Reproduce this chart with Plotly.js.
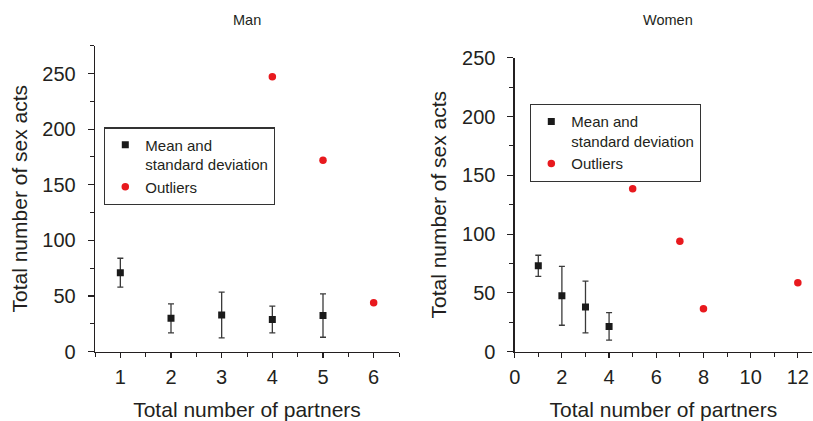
<!DOCTYPE html>
<html>
<head>
<meta charset="utf-8">
<script src="https://cdn.plot.ly/plotly-3.0.1.min.js"></script>
<style>html,body{margin:0;padding:0;background:#fff;}#chart{width:813px;height:421px;}</style>
</head>
<body>
<div id="chart"></div>
<script>
// Men
const manX = [1, 2, 3, 4, 5];
const manMean = [71, 30, 33, 29, 32.5];
const manSD = [13, 13, 20.5, 12, 19.5];
const manOutX = [4, 5, 6];
const manOutY = [247, 172, 44];
// Women
const womenX = [1, 2, 3, 4];
const womenMean = [73, 47.5, 38, 21.5];
const womenSD = [9, 25, 22, 11.7];
const womenOutX = [5, 7, 8, 12];
const womenOutY = [138.6, 94, 36.6, 58.7];

const panelTitles = ["Man", "Women"];
const seriesNames = ["Mean and<br>standard deviation", "Outliers"];
const xTitle = "Total number of partners";
const yTitle = "Total number of sex acts";

const ink = "#231f20";
const fontFam = "Liberation Sans, Arial, sans-serif";

function meanTrace(x, y, sd, xa, ya, leg) {
  return {
    type: "scatter", mode: "markers", x: x, y: y, xaxis: xa, yaxis: ya,
    name: seriesNames[0], legend: leg,
    marker: {symbol: "square", size: 7, color: "#1a1a1a"},
    error_y: {type: "data", array: sd, visible: true, color: "#3a3a3a", thickness: 1.3, width: 3}
  };
}
function outTrace(x, y, xa, ya, leg) {
  return {
    type: "scatter", mode: "markers", x: x, y: y, xaxis: xa, yaxis: ya,
    name: seriesNames[1], legend: leg,
    marker: {symbol: "circle", size: 7.5, color: "#e8191e"}
  };
}

const data = [
  meanTrace(manX, manMean, manSD, "x", "y", "legend"),
  outTrace(manOutX, manOutY, "x", "y", "legend"),
  meanTrace(womenX, womenMean, womenSD, "x2", "y2", "legend2"),
  outTrace(womenOutX, womenOutY, "x2", "y2", "legend2")
];

function xaxis(domain, range, dtick, minor, anchor) {
  return {
    domain: domain, range: range, anchor: anchor, dtick: dtick, tick0: 0,
    showline: true, linecolor: ink, linewidth: 1.3, showgrid: false, zeroline: false,
    ticks: "outside", ticklen: 5, tickwidth: 1.2, tickcolor: ink,
    minor: {dtick: minor, ticks: "outside", ticklen: 4, tickwidth: 1, tickcolor: ink, showgrid: false},
    tickfont: {size: 20, color: ink, family: fontFam},
    ticklabelstandoff: 2,
    title: {text: xTitle, font: {size: 21, color: ink, family: fontFam}, standoff: 16},
    fixedrange: true, automargin: false
  };
}
function yaxis(domain, range, anchor) {
  return {
    domain: domain, range: range, anchor: anchor, dtick: 50, tick0: 0,
    showline: true, linecolor: ink, linewidth: 1.3, showgrid: false, zeroline: false,
    ticks: "outside", ticklen: 6, tickwidth: 1.2, tickcolor: ink,
    minor: {dtick: 25, ticks: "outside", ticklen: 4, tickwidth: 1, tickcolor: ink, showgrid: false},
    tickfont: {size: 20, color: ink, family: fontFam},
    ticklabelstandoff: 8,
    title: {text: yTitle, font: {size: 21, color: ink, family: fontFam}, standoff: 9},
    fixedrange: true, automargin: false
  };
}

const legendStyle = {
  font: {size: 15, color: ink, family: fontFam},
  bgcolor: "#ffffff", bordercolor: "#333333", borderwidth: 1.3,
  xanchor: "left", yanchor: "top", valign: "top", tracegroupgap: 0
};

const layout = {
  width: 813, height: 421,
  margin: {l: 0, r: 0, t: 0, b: 0},
  paper_bgcolor: "#ffffff", plot_bgcolor: "#ffffff",
  showlegend: true,
  font: {family: fontFam, color: ink},
  xaxis: xaxis([95 / 813, 399 / 813], [0.5, 6.5], 1, 0.5, "y"),
  yaxis: yaxis([(421 - 351.7) / 421, (421 - 45.7) / 421], [0, 275], "x"),
  xaxis2: xaxis([514.7 / 813, 812 / 813], [0, 12.6], 2, 1, "y2"),
  yaxis2: yaxis([(421 - 351.7) / 421, (421 - 57.7) / 421], [0, 250], "x2"),
  legend: Object.assign({x: 104 / 813, y: (421 - 127.3) / 421}, legendStyle),
  legend2: Object.assign({x: 530 / 813, y: (421 - 104) / 421}, legendStyle),
  annotations: [
    {text: panelTitles[0], xref: "paper", yref: "paper", x: 246.7 / 813, y: (421 - 20) / 421,
     xanchor: "center", yanchor: "middle", showarrow: false, font: {size: 14.5, color: ink, family: fontFam}},
    {text: panelTitles[1], xref: "paper", yref: "paper", x: 667.7 / 813, y: (421 - 20) / 421,
     xanchor: "center", yanchor: "middle", showarrow: false, font: {size: 14.5, color: ink, family: fontFam}}
  ]
};

Plotly.newPlot("chart", data, layout, {displayModeBar: false, staticPlot: true});
</script>
</body>
</html>
